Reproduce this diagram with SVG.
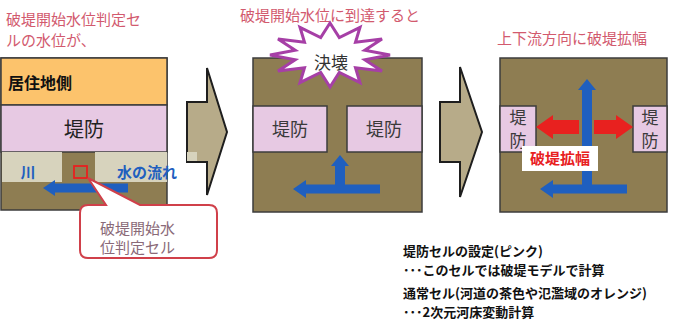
<svg xmlns="http://www.w3.org/2000/svg" width="685" height="336" viewBox="0 0 685 336">
<style>
text{font-family:"Noto Sans CJK JP","Noto Sans",sans-serif}
.ttl{font-size:15px;fill:#d25a6e}
.box{stroke:#3c3c3c;stroke-width:1.5}
.brown{fill:#8e7d52}
.pink{fill:#e7c9e3}
.chev{fill:#b7ab89;stroke:#1e1e1e;stroke-width:2}
.blue{fill:#1f5fbf}
.red{fill:#e8211f}
.dk{font-size:18px;fill:#3a3a3a}
.dv{font-size:17px;fill:#3a3a3a}
.note{font-size:13px;font-weight:bold;fill:#111}
</style>
<rect width="685" height="336" fill="#fff"/>
<g id="panel1">
<text class="ttl" x="6" y="25">破堤開始水位判定セ</text>
<text class="ttl" x="6" y="46">ルの水位が、</text>
<rect class="brown box" x="1" y="58" width="166" height="152"/>
<rect x="1" y="58" width="166" height="47" fill="#fcc36c" class="box"/>
<rect class="pink box" x="1" y="105" width="166" height="47"/>
<rect x="2" y="152" width="60" height="30" fill="#d7d3bd"/>
<rect x="95" y="152" width="72" height="30" fill="#d7d3bd"/>
<text x="8" y="89" font-size="16" font-weight="bold" fill="#111">居住地側</text>
<text x="84" y="137" font-size="20" fill="#222" text-anchor="middle">堤防</text>
<text x="28" y="178" font-size="15" font-weight="bold" fill="#1f5fbf" text-anchor="middle">川</text>
<text x="147" y="178" font-size="15" font-weight="bold" fill="#1f5fbf" text-anchor="middle">水の流れ</text>
<polygon class="blue" points="43,188 55,180 55,183.5 128,183.5 128,192.5 55,192.5 55,196"/>
<rect x="74" y="166" width="13" height="12" fill="none" stroke="#e8211f" stroke-width="1.8"/>
</g>
<g id="callout">
<path d="M 88 178 L 140 205 H 209 Q 217 205 217 213 V 250 Q 217 258 209 258 H 88 Q 80 258 80 250 V 213 Q 80 205 88 205 H 106 Z" fill="#fff" stroke="#d0404a" stroke-width="2"/>
<text x="100" y="234" font-size="15" fill="#8a6a78">破堤開始水</text>
<text x="100" y="253" font-size="15" fill="#8a6a78">位判定セル</text>
</g>
<g id="connectors">
<polygon class="chev" points="187,102 207,102 207,68 227,132 207,195 207,162 187,162"/>
<rect x="187" y="152" width="10" height="9" fill="#d7d3bd"/>
<polygon class="chev" points="440,102 460,102 460,67 482,132 460,197 460,162 440,162"/>
</g>
<g id="panel2">
<text class="ttl" x="240" y="21">破堤開始水位に到達すると</text>
<rect class="brown box" x="253" y="58" width="169" height="154"/>
<rect class="pink box" x="253" y="106" width="74" height="46"/>
<rect class="pink box" x="347" y="106" width="75" height="46"/>
<text class="dk" x="290" y="136" text-anchor="middle">堤防</text>
<text class="dk" x="384" y="136" text-anchor="middle">堤防</text>
<polygon class="blue" points="340,155 349,166 345,166 345,184.5 380,184.5 380,193.5 306,193.5 306,198 293,189 306,180 306,184.5 335,184.5 335,166 331,166"/>
<polygon fill="#fff" stroke="#a63fa6" stroke-width="3" stroke-linejoin="miter" points="390,55 364.8,59.7 382,71 355.5,67.7 360,82.7 339.3,72.4 330,87 320.7,72.4 300,82.7 304.5,67.7 278,71 295.2,59.7 270,55 295.2,50.3 278,39 304.5,42.3 300,27.3 320.7,37.6 330,23 339.3,37.6 360,27.3 355.5,42.3 382,39 364.8,50.3"/>
<text x="331" y="69" font-size="17" fill="#333" text-anchor="middle">決壊</text>
</g>
<g id="panel3">
<text class="ttl" x="497" y="44">上下流方向に破堤拡幅</text>
<rect class="brown box" x="500" y="58" width="167" height="154"/>
<rect class="pink box" x="500" y="106" width="36" height="46"/>
<rect class="pink box" x="633" y="106" width="34" height="46"/>
<text class="dv" x="518" y="124" text-anchor="middle">堤</text>
<text class="dv" x="518" y="147" text-anchor="middle">防</text>
<text class="dv" x="650" y="124" text-anchor="middle">堤</text>
<text class="dv" x="650" y="147" text-anchor="middle">防</text>
<polygon class="blue" points="587,79 596,90 592,90 592,184.5 627,184.5 627,193.5 553,193.5 553,198 540,189 553,180 553,184.5 582,184.5 582,90 578,90"/>
<polygon class="red" points="536,127 553,115 553,120 579,120 579,134 553,134 553,139"/>
<polygon class="red" points="633,127 616,115 616,120 594,120 594,134 616,134 616,139"/>
<rect x="522" y="146" width="76" height="25" fill="#fff"/>
<text x="560" y="164" font-size="15" font-weight="bold" fill="#e8211f" text-anchor="middle">破堤拡幅</text>
</g>
<g id="notes">
<text class="note" x="403" y="256">堤防セルの設定(ピンク)</text>
<text class="note" x="403" y="275">･･･このセルでは破堤モデルで計算</text>
<text class="note" x="403" y="298">通常セル(河道の茶色や氾濫域のオレンジ)</text>
<text class="note" x="403" y="317">･･･2次元河床変動計算</text>
</g>
</svg>
